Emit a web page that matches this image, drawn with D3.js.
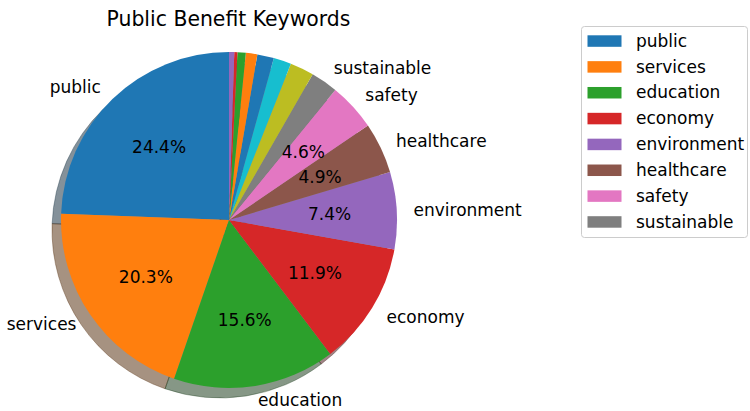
<!DOCTYPE html>
<html>
<head>
<meta charset="utf-8">
<script src="https://cdn.jsdelivr.net/npm/d3@7"></script>
<style>
  html, body { margin: 0; padding: 0; background: #fff; }
  svg { display: block; font-family: "DejaVu Sans", sans-serif; }
</style>
</head>
<body>
<svg id="chart" width="750" height="411"></svg>
<script>
// ---- data ----
const categories = ["public", "services", "education", "economy", "environment", "healthcare", "safety", "sustainable",
                    "", "", "", "", "", "", ""];
const values = [24.4, 20.3, 15.6, 11.9, 7.4, 4.9, 4.6, 2.6, 2.3, 1.7, 1.6, 1.1, 0.8, 0.3, 0.5];
const legendLabels = ["public", "services", "education", "economy", "environment", "healthcare", "safety", "sustainable"];
const palette = ["#1f77b4", "#ff7f0e", "#2ca02c", "#d62728", "#9467bd", "#8c564b", "#e377c2", "#7f7f7f", "#bcbd22", "#17becf"];
const title = "Public Benefit Keywords";

// ---- layout ----
const W = 750, H = 411;
const cx = 229, cy = 220, R = 168;
const shadowDx = -9, shadowDy = 10;

const svg = d3.select("#chart");
const color = i => palette[i % palette.length];

const pie = d3.pie().sort(null).value(d => d).startAngle(0).endAngle(-2 * Math.PI);
const arcs = pie(values);
const arc = d3.arc().innerRadius(0).outerRadius(R);

function shade(c) {
  const rgb = d3.rgb(c);
  return d3.rgb(rgb.r * 0.3, rgb.g * 0.3, rgb.b * 0.3).toString();
}

// shadow
const gShadow = svg.append("g").attr("transform", `translate(${cx + shadowDx},${cy + shadowDy})`);
gShadow.selectAll("path").data(arcs).join("path")
  .attr("d", arc)
  .attr("fill", (d, i) => shade(color(i)))
  .attr("fill-opacity", 0.5)
  .attr("stroke", (d, i) => shade(color(i)))
  .attr("stroke-opacity", 0.35)
  .attr("stroke-width", 1);

// wedges
const gPie = svg.append("g").attr("transform", `translate(${cx},${cy})`);
gPie.selectAll("path").data(arcs).join("path")
  .attr("d", arc)
  .attr("fill", (d, i) => color(i));

const total = d3.sum(values);
const fs = 17;

// labels at 1.1 R, percentages at 0.6 R
arcs.forEach((d, i) => {
  const a = (d.startAngle + d.endAngle) / 2;
  const x = Math.sin(a), y = -Math.cos(a);
  if (categories[i]) {
    gPie.append("text")
      .attr("x", x * R * 1.1)
      .attr("y", Math.min(y * R * 1.1, 180))
      .attr("text-anchor", x > 0 ? "start" : "end")
      .attr("dominant-baseline", "central")
      .attr("font-size", fs)
      .attr("fill", "#000")
      .text(categories[i]);
  }
  const pct = d.value / total * 100;
  if (pct > 4) {
    gPie.append("text")
      .attr("x", x * R * 0.6)
      .attr("y", y * R * 0.6)
      .attr("text-anchor", "middle")
      .attr("dominant-baseline", "central")
      .attr("font-size", fs)
      .attr("fill", "#000")
      .text(pct.toFixed(1) + "%");
  }
});

// title
svg.append("text")
  .attr("x", 228.5)
  .attr("y", 26)
  .attr("text-anchor", "middle")
  .attr("font-size", 20.4)
  .attr("fill", "#000")
  .text(title);

// legend
const lg = svg.append("g");
lg.append("rect")
  .attr("x", 581.5).attr("y", 26.5)
  .attr("width", 166).attr("height", 211)
  .attr("rx", 3).attr("ry", 3)
  .attr("fill", "#fff").attr("fill-opacity", 0.8)
  .attr("stroke", "#cccccc").attr("stroke-width", 1);

const rowY = d3.scalePoint().domain(legendLabels).range([40.8, 221.7]);
legendLabels.forEach((lab, i) => {
  const y = rowY(lab);
  lg.append("rect")
    .attr("x", 587.5).attr("y", y - 5.5)
    .attr("width", 34).attr("height", 11.5)
    .attr("fill", color(i));
  lg.append("text")
    .attr("x", 636).attr("y", y)
    .attr("dominant-baseline", "central")
    .attr("font-size", fs)
    .attr("fill", "#000")
    .text(lab);
});
</script>
</body>
</html>
